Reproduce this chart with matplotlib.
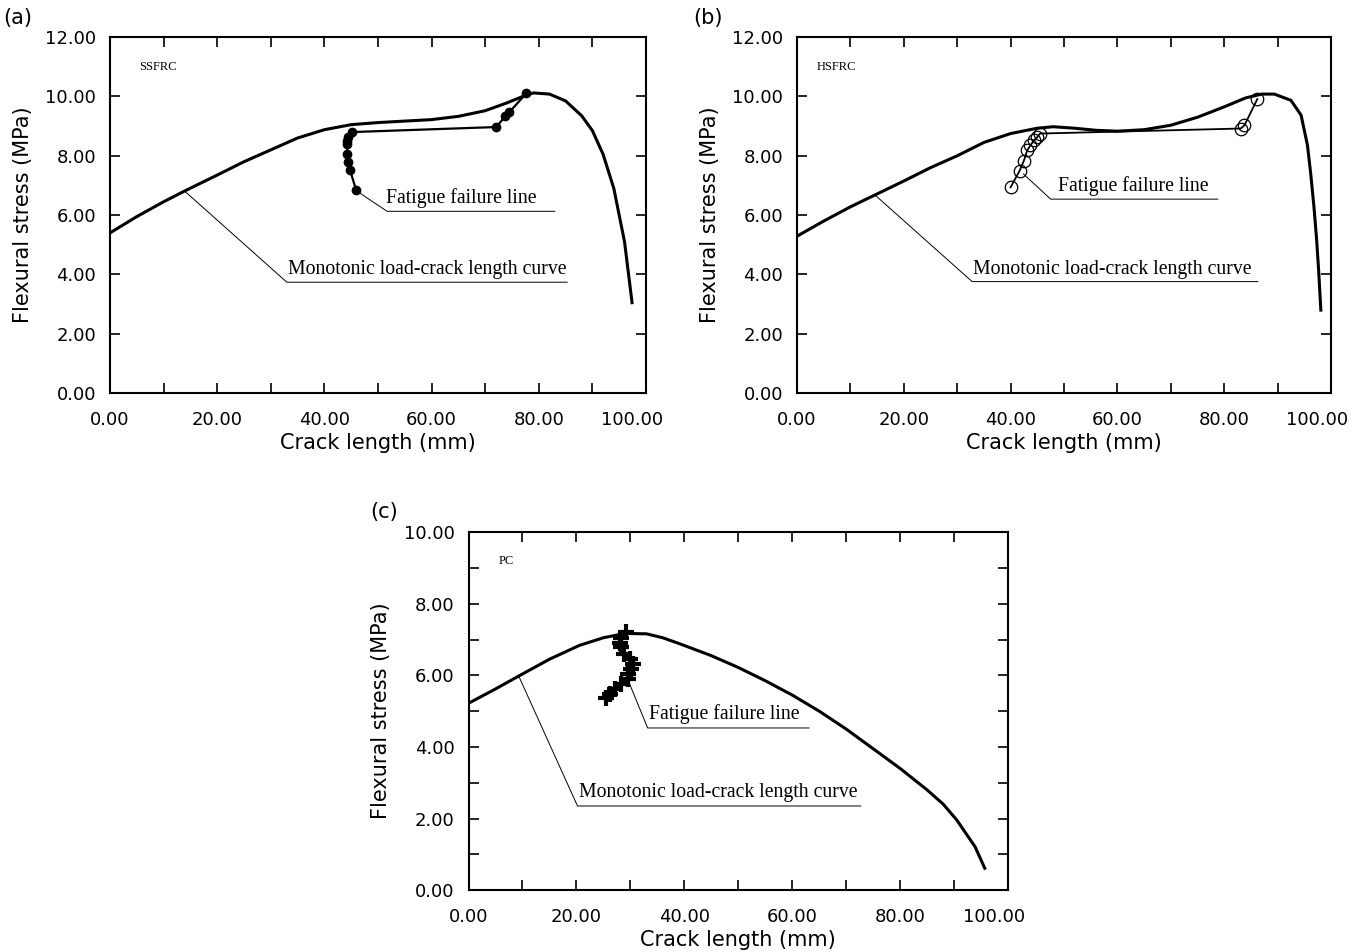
import matplotlib
matplotlib.use("Agg")
import matplotlib.pyplot as plt
from matplotlib.ticker import MultipleLocator, FormatStrFormatter
from matplotlib.transforms import ScaledTranslation

# ---- data ----
# (a) SSFRC
a_curve_x = [0, 5, 10, 14, 20, 25, 30, 35, 40, 45, 50, 55, 60, 65, 70, 74, 77, 79, 82, 85, 88, 90, 92, 94, 96, 97.4]
a_curve_y = [5.40, 5.95, 6.45, 6.82, 7.35, 7.80, 8.20, 8.60, 8.88, 9.05, 9.12, 9.17, 9.22, 9.33, 9.52, 9.78, 10.00, 10.12, 10.08, 9.85, 9.35, 8.85, 8.05, 6.90, 5.10, 3.05]
a_fat_x = [45.9, 44.8, 44.5, 44.3, 44.2, 44.3, 44.5, 45.1, 72.1, 73.7, 74.5, 77.7]
a_fat_y = [6.86, 7.51, 7.79, 8.07, 8.41, 8.51, 8.63, 8.80, 8.97, 9.33, 9.47, 10.11]

# (b) HSFRC
b_curve_x = [0, 5, 10, 14.6, 20, 25, 30, 35, 40, 45, 48, 52, 56, 60, 65, 70, 75, 80, 84, 87, 89.4, 92.5, 94.4, 95.6, 96.2, 96.8, 97.3, 97.7, 98.1]
b_curve_y = [5.29, 5.80, 6.28, 6.68, 7.15, 7.60, 8.00, 8.45, 8.75, 8.93, 8.98, 8.93, 8.86, 8.83, 8.88, 9.03, 9.30, 9.65, 9.95, 10.08, 10.08, 9.87, 9.37, 8.35, 7.40, 6.30, 5.20, 4.10, 2.80]
b_fat_x = [40.0, 41.7, 42.5, 43.1, 43.7, 44.4, 45.0, 45.5, 83.1, 83.8, 86.2]
b_fat_y = [6.94, 7.50, 7.84, 8.18, 8.35, 8.52, 8.63, 8.75, 8.92, 9.03, 9.91]

# (c) PC
c_curve_x = [0, 5, 9.3, 15, 20.6, 25, 29, 33, 36, 39, 45, 50, 55, 60, 65, 70, 75, 80, 85, 88, 90.5, 93.9, 95.7]
c_curve_y = [5.22, 5.62, 5.98, 6.45, 6.84, 7.05, 7.17, 7.16, 7.05, 6.89, 6.55, 6.22, 5.85, 5.45, 5.00, 4.50, 3.95, 3.40, 2.80, 2.40, 1.96, 1.21, 0.61]
c_fat_x = [25.5, 26.2, 27.1, 28.3, 29.5, 29.5, 30.2, 30.5, 29.9, 28.9, 28.3, 28.0, 28.3, 29.2]
c_fat_y = [5.38, 5.49, 5.63, 5.77, 5.91, 6.05, 6.19, 6.33, 6.47, 6.61, 6.80, 6.89, 7.03, 7.22]

SANS = ["DejaVu Sans"]
SERIF = ["Liberation Serif", "DejaVu Serif"]

fig = plt.figure(figsize=(13.64, 9.52), dpi=100)


def setup_axes(ax, ymax, ystep, yminor):
	ax.set_xlim(0, 100)
	ax.set_ylim(0, ymax)
	ax.xaxis.set_major_locator(MultipleLocator(20))
	ax.xaxis.set_minor_locator(MultipleLocator(10))
	ax.yaxis.set_major_locator(MultipleLocator(ystep))
	if yminor:
		ax.yaxis.set_minor_locator(MultipleLocator(yminor))
	ax.xaxis.set_major_formatter(FormatStrFormatter("%.2f"))
	ax.yaxis.set_major_formatter(FormatStrFormatter("%.2f"))
	ax.tick_params(which="both", direction="in", top=True, right=True, length=7, width=1.2)
	ax.tick_params(axis="x", which="both", pad=13)
	ax.tick_params(axis="y", which="both", pad=10)
	for lab in ax.get_xticklabels() + ax.get_yticklabels():
		lab.set_family(SANS)
		lab.set_fontsize(13)
	# the 100.00 label sits a little left of its tick in the original
	locs = ax.xaxis.get_majorticklocs()
	ticks = ax.xaxis.get_major_ticks(len(locs))
	for t, v in zip(ticks, locs):
		if abs(v - 100) < 1e-6:
			t.label1.set_transform(t.label1.get_transform() + ScaledTranslation(-0.14, 0, fig.dpi_scale_trans))
	for sp in ax.spines.values():
		sp.set_linewidth(1.5)
	ax.text(0.5, -0.14, "Crack length (mm)", transform=ax.transAxes, ha="center", va="center",
		fontsize=15, family=SANS)
	ax.text(-0.163, 0.5, "Flexural stress (MPa)", transform=ax.transAxes, ha="center", va="center",
		rotation=90, fontsize=15, family=SANS)


def leader(ax, pts, label, tx, ty):
	xs = [p[0] for p in pts]
	ys = [p[1] for p in pts]
	ax.plot(xs, ys, color="black", lw=0.7)
	ax.text(tx, ty, label, ha="left", va="bottom", fontsize=14.2, family=SERIF)


# (a)
ax = fig.add_axes([0.0806, 0.587, 0.393, 0.374])
setup_axes(ax, 12, 2, None)
ax.plot(a_curve_x, a_curve_y, color="black", lw=2.2)
ax.plot(a_fat_x, a_fat_y, color="black", lw=1.6, marker="o", ms=6)
leader(ax, [(14.0, 6.80), (33.0, 3.74), (85.3, 3.74)], "Monotonic load-crack length curve", 33.3, 3.84)
leader(ax, [(45.9, 6.83), (51.7, 6.13), (83.0, 6.13)], "Fatigue failure line", 51.5, 6.25)
ax.text(5.4, 11.0, "SSFRC", fontsize=9, family=SERIF, va="center")
fig.text(0.0132, 0.981, "(a)", fontsize=15, family=SANS, ha="center", va="center")

# (b)
ax = fig.add_axes([0.5843, 0.587, 0.3915, 0.374])
setup_axes(ax, 12, 2, None)
ax.plot(b_curve_x, b_curve_y, color="black", lw=2.2)
ax.plot(b_fat_x, b_fat_y, color="black", lw=1.3, marker="o", ms=9,
	markerfacecolor="none", markeredgewidth=0.9)
leader(ax, [(14.6, 6.68), (32.8, 3.76), (86.3, 3.76)], "Monotonic load-crack length curve", 33.0, 3.86)
leader(ax, [(42.4, 7.39), (47.5, 6.54), (78.8, 6.54)], "Fatigue failure line", 48.8, 6.66)
ax.text(3.75, 11.0, "HSFRC", fontsize=9, family=SERIF, va="center")
fig.text(0.519, 0.981, "(b)", fontsize=15, family=SANS, ha="center", va="center")

# (c)
ax = fig.add_axes([0.3435, 0.065, 0.3955, 0.376])
setup_axes(ax, 10, 2, 1)
ax.plot(c_curve_x, c_curve_y, color="black", lw=2.2)
ax.plot(c_fat_x, c_fat_y, color="black", lw=2.0, marker="+", ms=11, markeredgewidth=3)
leader(ax, [(9.3, 5.98), (20.2, 2.35), (72.7, 2.35)], "Monotonic load-crack length curve", 20.4, 2.45)
leader(ax, [(29.7, 5.82), (33.2, 4.53), (63.1, 4.53)], "Fatigue failure line", 33.5, 4.63)
ax.text(5.6, 9.19, "PC", fontsize=9, family=SERIF, va="center")
fig.text(0.2815, 0.462, "(c)", fontsize=15, family=SANS, ha="center", va="center")

fig.savefig("out.png", dpi=100)
